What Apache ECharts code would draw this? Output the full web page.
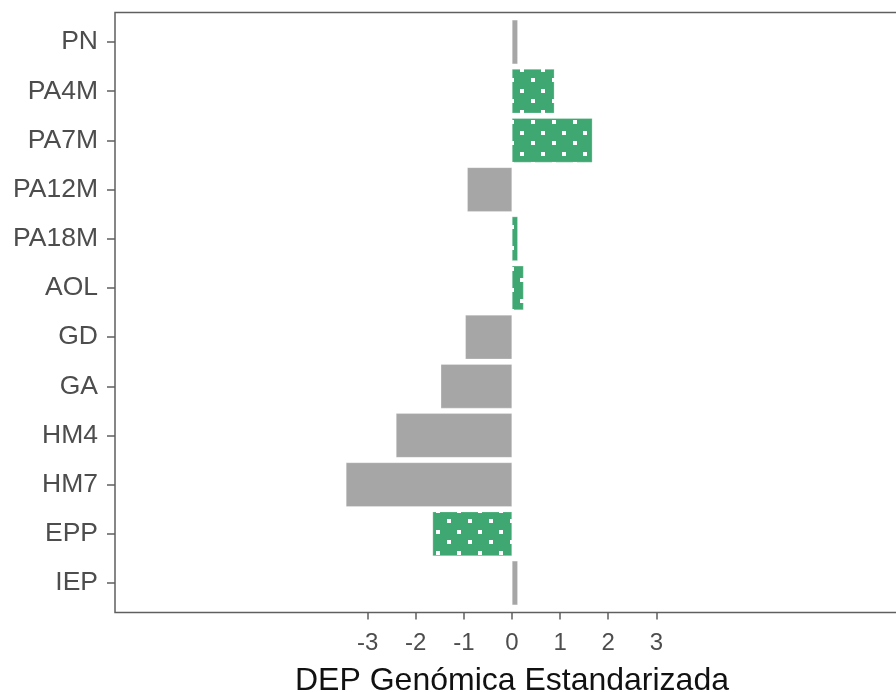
<!DOCTYPE html>
<html>
<head>
<meta charset="utf-8">
<script src="https://cdn.jsdelivr.net/npm/echarts@6/dist/echarts.min.js"></script>
<style>
html,body{margin:0;padding:0;background:#fff;}
#chart{width:896px;height:692px;}
</style>
</head>
<body>
<div id="chart"></div>
<script>
const categories = ['PN','PA4M','PA7M','PA12M','PA18M','AOL','GD','GA','HM4','HM7','EPP','IEP'];
const values = [0.12, 0.88, 1.67, -0.93, 0.12, 0.24, -0.97, -1.48, -2.41, -3.45, -1.65, 0.12];
const significant = [false, true, true, false, true, true, false, false, false, false, true, false];
const xTickValues = [-3, -2, -1, 0, 1, 2, 3];
const axisTitle = 'DEP Genómica Estandarizada';

const GREEN = '#3FA872';
const GRAY = '#A6A6A6';
const FRAME = '#5f5f5f';

// dotted pattern tile (white dots on green)
const tile = document.createElement('canvas');
tile.width = 21; tile.height = 21;
const tctx = tile.getContext('2d');
tctx.fillStyle = GREEN;
tctx.fillRect(0, 0, 21, 21);
tctx.fillStyle = '#ffffff';
tctx.fillRect(16, 5, 4, 4);
tctx.fillRect(6, 15, 4, 4);

const seriesData = values.map((v, i) => ({
  value: v,
  itemStyle: {
    color: significant[i] ? { image: tile, repeat: 'repeat' } : GRAY
  }
}));

// panel frame: 12.5 .. 612.5 vertically; categories span with 0.6-band padding (ggplot-like)
const panelTop = 12.5, panelH = 600;
const band = panelH / (categories.length + 0.2);
const pad = 0.1 * band;

const chart = echarts.init(document.getElementById('chart'), null, { renderer: 'canvas' });
chart.setOption({
  animation: false,
  backgroundColor: '#ffffff',
  grid: [
    { left: 115, width: 794, top: panelTop + pad, height: panelH - 2 * pad, show: false, containLabel: false, outerBoundsMode: 'none' },
    { left: 115, width: 794, top: panelTop, height: panelH, show: true, borderColor: FRAME, borderWidth: 1.5, containLabel: false, outerBoundsMode: 'none', z: 0 }
  ],
  xAxis: [{
    gridIndex: 0,
    type: 'value',
    min: -8.25, max: 8.25,
    offset: pad,
    name: axisTitle,
    nameLocation: 'middle',
    nameGap: 53,
    nameTextStyle: { fontFamily: 'Liberation Sans', fontSize: 32, color: '#111111' },
    axisLine: { show: false, onZero: false },
    splitLine: { show: false },
    axisTick: { show: true, length: 7, lineStyle: { color: FRAME, width: 1.5 }, customValues: xTickValues },
    axisLabel: { fontFamily: 'Liberation Sans', fontSize: 24, color: '#4D4D4D', margin: 19, customValues: xTickValues }
  }, {
    gridIndex: 1, type: 'value', min: 0, max: 1, show: false
  }],
  yAxis: [{
    gridIndex: 0,
    type: 'category',
    data: categories,
    inverse: true,
    axisLine: { show: false, onZero: false },
    axisTick: { show: true, length: 8, alignWithLabel: true, lineStyle: { color: FRAME, width: 1.5 } },
    axisLabel: { fontFamily: 'Liberation Sans', fontSize: 26.5, color: '#4D4D4D', margin: 17 },
    splitLine: { show: false }
  }, {
    gridIndex: 1, type: 'value', min: 0, max: 1, show: false
  }],
  series: [{
    type: 'bar',
    xAxisIndex: 0,
    yAxisIndex: 0,
    data: seriesData,
    barCategoryGap: '10%',
    itemStyle: { borderColor: 'rgba(255,255,255,0.5)', borderWidth: 0.5 }
  }]
});
</script>
</body>
</html>
